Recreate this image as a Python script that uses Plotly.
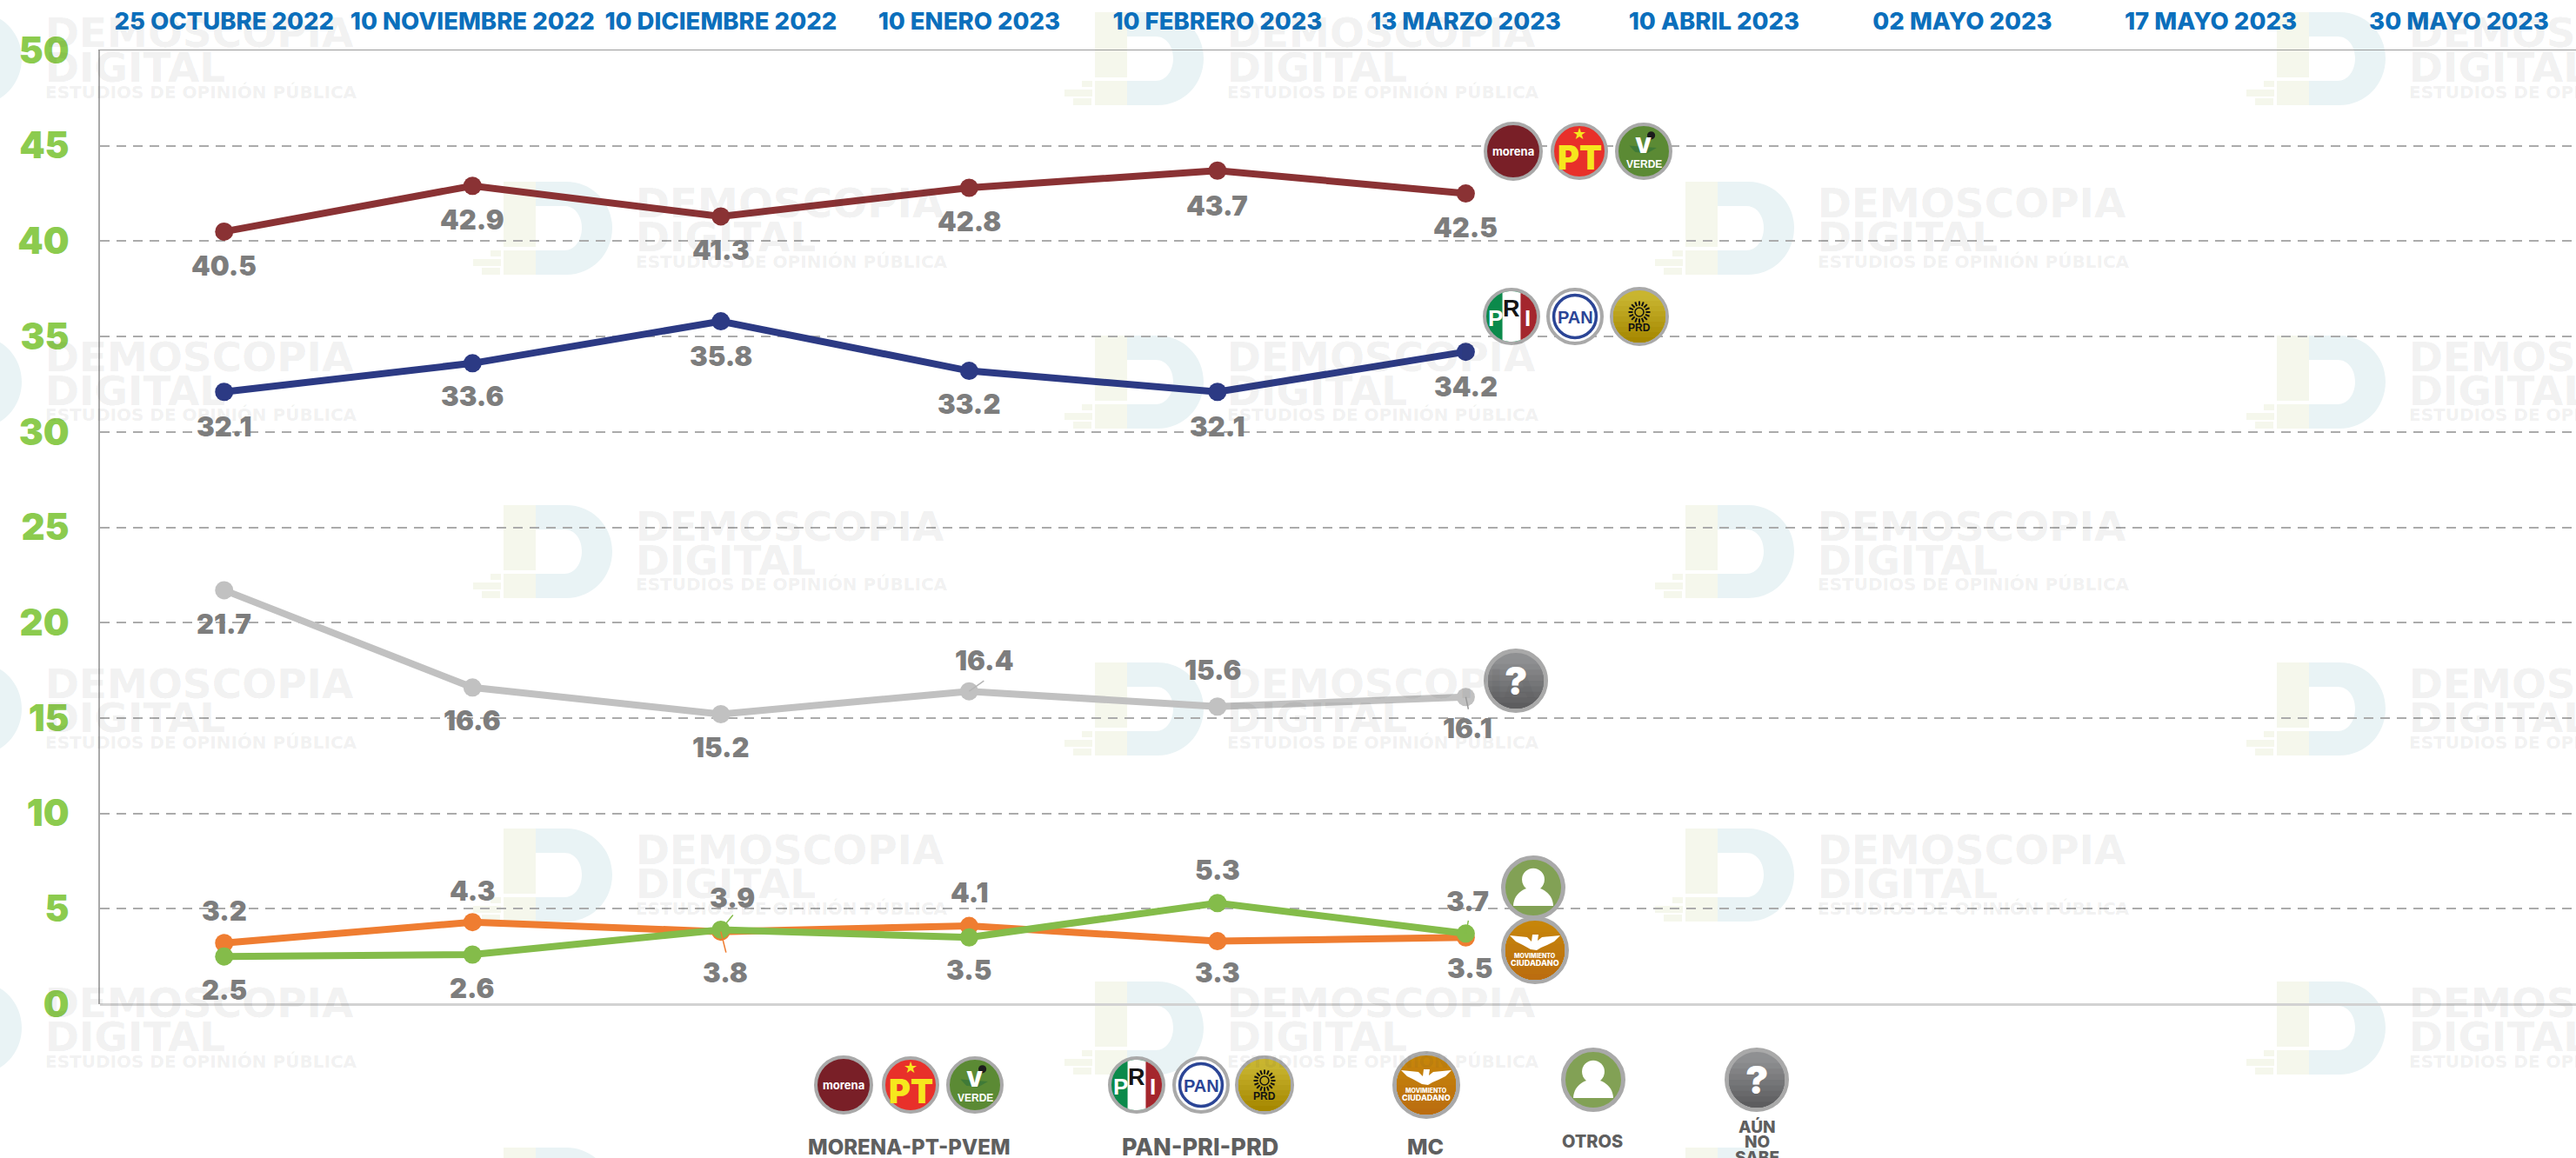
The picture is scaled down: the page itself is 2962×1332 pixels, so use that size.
import math
import plotly.graph_objects as go

# ---------- DATA ----------
fechas = ["25 OCTUBRE 2022", "10 NOVIEMBRE 2022", "10 DICIEMBRE 2022", "10 ENERO 2023", "10 FEBRERO 2023",
          "13 MARZO 2023", "10 ABRIL 2023", "02 MAYO 2023", "17 MAYO 2023", "30 MAYO 2023"]
y_ticks = [0, 5, 10, 15, 20, 25, 30, 35, 40, 45, 50]
morena_pt_pvem = [40.5, 42.9, 41.3, 42.8, 43.7, 42.5]
pan_pri_prd = [32.1, 33.6, 35.8, 33.2, 32.1, 34.2]
aun_no_sabe = [21.7, 16.6, 15.2, 16.4, 15.6, 16.1]
mc = [3.2, 4.3, 3.8, 4.1, 3.3, 3.5]
otros = [2.5, 2.6, 3.9, 3.5, 5.3, 3.7]

# ---------- LAYOUT CONSTANTS (px) ----------
W, H = 2962, 1332
L, R, T, B = 115, 2962, 58, 1155
LABEL_FONT = "Inter"
NARROW = "Liberation Sans"
WM = "rgba(60,60,60,0.085)"
GRID = "#ababab"


def px(x):
    return (x - L) / (R - L)


def py(y):
    return (B - y) / (B - T)


shapes, annos = [], []


def text(x, y, s, size, color, weight=800, family=LABEL_FONT, xanchor="center"):
    annos.append(dict(xref="paper", yref="paper", x=px(x), y=py(y), text=s, showarrow=False,
                      xanchor=xanchor, yanchor="middle",
                      font=dict(size=size, color=color, family=family, weight=weight)))


def path_pts(pts, fill, layer="above", close=True):
    d = "M " + " L ".join(f"{px(a):.6f},{py(b):.6f}" for a, b in pts) + (" Z" if close else "")
    shapes.append(dict(type="path", xref="paper", yref="paper", path=d, fillcolor=fill,
                       line=dict(width=0), layer=layer))


def rect(x0, y0, x1, y1, fill, layer="below"):
    shapes.append(dict(type="rect", xref="paper", yref="paper", x0=px(x0), x1=px(x1), y0=py(y0), y1=py(y1),
                       fillcolor=fill, line=dict(width=0), layer=layer))


def circle(cx, cy, r, fill, ring=None, w=0):
    shapes.append(dict(type="circle", xref="paper", yref="paper", x0=px(cx - r), x1=px(cx + r),
                       y0=py(cy + r), y1=py(cy - r), fillcolor=fill,
                       line=dict(width=w, color=ring or fill), layer="above"))


def seg(x0, y0, x1, y1, col, w):
    shapes.append(dict(type="line", xref="paper", yref="paper", x0=px(x0), x1=px(x1), y0=py(y0), y1=py(y1),
                       line=dict(color=col, width=w), layer="above"))


def chord_below(cx, cy, r, y_from, fill):
    """part of a circle below a horizontal chord"""
    y_from = max(y_from, cy - r + 0.01)
    a0 = math.asin(min(1, (y_from - cy) / r))
    n = 40
    pts = []
    for i in range(n + 1):
        a = a0 + (math.pi - 2 * a0) * i / n
        pts.append((cx + r * math.cos(a), cy + r * math.sin(a)))
    path_pts(pts, fill)


def chord_right(cx, cy, r, x_from, fill):
    a0 = math.acos(max(-1, min(1, (x_from - cx) / r)))
    n = 40
    pts = []
    for i in range(n + 1):
        a = -a0 + 2 * a0 * i / n
        pts.append((cx + r * math.cos(a), cy + r * math.sin(a)))
    path_pts(pts, fill)


def hexrgb(c):
    return [int(c[i:i + 2], 16) for i in (1, 3, 5)]


def gradient(cx, cy, r, top, bottom, n=10):
    a, b = hexrgb(top), hexrgb(bottom)
    for k in range(1, n):
        t = k / (n - 1)
        col = "#%02x%02x%02x" % tuple(round(a[j] + (b[j] - a[j]) * t) for j in range(3))
        chord_below(cx, cy, r, cy - r + 2 * r * k / n, col)


RING = "#a9a9a9"


def disc(cx, cy, r, fill, w=4):
    circle(cx, cy, r - w / 2, fill, RING, w)


def badge_morena(cx, cy, r=34):
    disc(cx, cy, r, "#791f27")
    text(cx, cy, "morena", 13, "white", 700)


def badge_pt(cx, cy, r=33):
    disc(cx, cy, r, "#e8302a")
    text(cx, cy + r * 0.2, "PT", 38, "#f6e71d", 900)
    text(cx, cy - r * 0.63, "★", 18, "#f6e71d", 400, "DejaVu Sans")


def badge_verde(cx, cy, r=33):
    disc(cx, cy, r, "#5b8a34")
    path_pts([(cx - r * 0.5, cy - r * 0.2), (cx + r * 0.45, cy - r * 0.12), (cx + r * 0.1, cy + r * 0.08),
              (cx - r * 0.3, cy + r * 0.02)], "#3f7a37")
    text(cx - r * 0.03, cy - r * 0.2, "V", 24, "white", 900)
    circle(cx + r * 0.26, cy - r * 0.55, r * 0.14, "#1c1c1c")
    text(cx, cy + r * 0.44, "VERDE", 12, "white", 700, NARROW)


def badge_pri(cx, cy, r=33):
    disc(cx, cy, r, "#0b8a4b")
    inner = r - 4
    chord_right(cx, cy, inner, cx - inner * 0.36, "#ffffff")
    chord_right(cx, cy, inner, cx + inner * 0.36, "#a4262d")
    text(cx - r * 0.55, cy + r * 0.07, "P", 26, "white", 700, NARROW)
    text(cx, cy - r * 0.27, "R", 27, "#151515", 700, NARROW)
    text(cx + r * 0.56, cy + r * 0.07, "I", 26, "white", 700, NARROW)


def badge_pan(cx, cy, r=33):
    disc(cx, cy, r, "#ffffff")
    circle(cx, cy, r * 0.74, "#ffffff", "#2b4596", 3.5)
    text(cx, cy + 1, "PAN", 20, "#2b4596", 700, NARROW)


def badge_prd(cx, cy, r=34):
    disc(cx, cy, r, "#c9b52f")
    gradient(cx, cy, r - 4, "#cbb935", "#a68800")
    sx, sy = cx, cy - 5
    for k in range(16):
        a = k * math.pi / 8
        seg(sx + 7.5 * math.cos(a), sy + 7.5 * math.sin(a), sx + 12.5 * math.cos(a), sy + 12.5 * math.sin(a),
            "#111111", 2)
    circle(sx, sy, 5, "rgba(0,0,0,0)", "#111111", 1.5)
    text(cx, cy + 13, "PRD", 12, "#111111", 700, NARROW)


def badge_q(cx, cy, r=37):
    disc(cx, cy, r, "#8f9092", 5)
    gradient(cx, cy, r - 5, "#949597", "#5d5d5f")
    text(cx, cy, "?", 44, "white", 900)


def badge_otros(cx, cy, r=37):
    disc(cx, cy, r, "#82a155", 5)
    circle(cx, cy - r * 0.25, r * 0.35, "white")
    pts = [(cx + r * 0.62 * math.cos(a * math.pi / 30), cy + r * 0.57 - r * 0.58 * math.sin(a * math.pi / 30))
           for a in range(31)]
    path_pts(pts, "white")


def badge_mc(cx, cy, r=39):
    disc(cx, cy, r, "#c6850a", 5)
    gradient(cx, cy, r - 5, "#c6860a", "#bb6d10")
    wing = [(-29, -17), (-9, -15), (-4, -10), (-3, -18), (4, -18), (3, -11), (8, -15), (29, -17), (22, -10), (14, -6),
            (7, -3), (2, 0), (-5, -1), (-14, -6), (-22, -10)]
    path_pts([(cx + a, cy + b) for a, b in wing], "white")
    text(cx, cy + 6.5, "MOVIMIENTO", 7, "white", 800)
    text(cx, cy + 14, "CIUDADANO", 9, "white", 800)


# ---------- WATERMARKS ----------
rows = [(23, (50, 1409, 2768)), (218, (729, 2088)), (395, (50, 1409, 2768)), (590, (729, 2088)),
        (771, (50, 1409, 2768)), (962, (729, 2088)), (1138, (50, 1409, 2768)), (1329, (729, 2088))]
YEL, BLU = "#f5f7ec", "#e9f3f5"
for top, xs in rows:
    for x in xs:
        x0 = x + 2
        rect(x0 - 152, top - 9, x0 - 115, top + 66, YEL)
        rect(x0 - 152, top + 70, x0 - 115, top + 98, YEL)
        rect(x0 - 167, top + 70, x0 - 155, top + 77, YEL)
        rect(x0 - 187, top + 80, x0 - 155, top + 88, YEL)
        rect(x0 - 177, top + 90, x0 - 156, top + 98, YEL)

        def P(a, b):
            return f"{px(x0 + a):.6f},{py(top + b):.6f}"

        d = (f"M {P(-115, -9)} L {P(-80, -9)} C {P(-50, -9)} {P(-27, 15)} {P(-27, 44)} "
             f"C {P(-27, 74)} {P(-50, 98)} {P(-80, 98)} L {P(-115, 98)} L {P(-115, 70)} L {P(-82, 70)} "
             f"C {P(-70, 70)} {P(-62, 58)} {P(-62, 44)} C {P(-62, 30)} {P(-70, 19)} {P(-82, 19)} "
             f"L {P(-115, 19)} Z")
        shapes.append(dict(type="path", xref="paper", yref="paper", path=d, fillcolor=BLU,
                           line=dict(width=0), layer="below"))
        if top < 1300:
            text(x, top + 15, "DEMOSCOPIA", 47, WM, 700, "DejaVu Sans", "left")
            text(x, top + 54, "DIGITAL", 47, WM, 700, "DejaVu Sans", "left")
            text(x, top + 82.5, "ESTUDIOS DE OPINIÓN PÚBLICA", 20, WM, 700, "DejaVu Sans", "left")

# ---------- BADGES ----------
badge_morena(1740, 174); badge_pt(1816, 174); badge_verde(1890, 174)
badge_pri(1738, 364); badge_pan(1811, 364); badge_prd(1885, 364)
badge_q(1743, 783); badge_otros(1763, 1021); badge_mc(1765, 1093)

badge_morena(970, 1248); badge_pt(1047, 1248); badge_verde(1121, 1248)
badge_pri(1307, 1248); badge_pan(1381, 1248); badge_prd(1454, 1248)
badge_mc(1640, 1248); badge_otros(1832, 1242); badge_q(2020, 1242)

LEG = "#5f5f5f"
text(1045, 1319, "MORENA-PT-PVEM", 24, LEG)
text(1380, 1319, "PAN-PRI-PRD", 27, LEG)
text(1639, 1319, "MC", 25, LEG)
text(1831, 1313, "OTROS", 20, LEG)
text(2020, 1296, "AÚN", 19, LEG)
text(2020, 1313, "NO", 19, LEG)
text(2020, 1331, "SABE", 19, LEG)

# ---------- SERIES ----------
series = [
    ("MORENA-PT-PVEM", morena_pt_pvem, "#8a3234", [-39, -39, -39, -39, -40, -39], [0, 0, 0, 0, 0, 0]),
    ("PAN-PRI-PRD", pan_pri_prd, "#2c3a84", [-40, -38, -40, -38, -40, -40], [0, 0, 0, 0, 0, 0]),
    ("AÚN NO SABE", aun_no_sabe, "#c1c1c1", [-39, -38, -38, 36, 42, -36], [0, 0, 0, 17, -5, 2]),
    ("MC", mc, "#ef7d31", [37, 36, -47, 39, -36, -35], [0, 0, 5, 0, 0, 5]),
    ("OTROS", otros, "#84bc4a", [-38, -39, 37, -37, 38, 37], [0, 0, 13, 0, 0, 2]),
]

fig = go.Figure()
for name, vals, col, dys, dxs in series:
    cats = fechas[:len(vals)]
    fig.add_trace(go.Scatter(x=cats, y=vals, name=name, mode="lines+markers",
                             line=dict(color=col, width=8), marker=dict(color=col, size=21),
                             showlegend=False, cliponaxis=False))
    for c, v, dy, dx in zip(cats, vals, dys, dxs):
        annos.append(dict(xref="x", yref="y", x=c, y=v, text=f"{v:.1f}", showarrow=False,
                          xanchor="center", yanchor="middle", xshift=dx, yshift=dy,
                          font=dict(size=31, color="#7d7d7d", family=LABEL_FONT, weight=900)))

# thin leader lines left on some points of the original
leaders = [(fechas[2], mc[2], 6, -24, "#ef7d31"), (fechas[2], otros[2], 14, 17, "#84bc4a"),
           (fechas[3], aun_no_sabe[3], 17, 12, "#b5b5b5"), (fechas[5], aun_no_sabe[5], 3, -14, "#9a9a9a"),
           (fechas[5], otros[5], 3, 15, "#84bc4a")]
for c, v, dx, dy, col in leaders:
    shapes.append(dict(type="line", xref="x", yref="y", xsizemode="pixel", ysizemode="pixel",
                       xanchor=c, yanchor=v, x0=0, x1=dx, y0=0, y1=dy,
                       line=dict(color=col, width=1.5), layer="above"))

fig.update_layout(
    width=W, height=H, autosize=False,
    margin=dict(l=L, r=W - R, t=T, b=H - B, pad=0),
    paper_bgcolor="white", plot_bgcolor="rgba(0,0,0,0)",
    shapes=shapes, annotations=annos, showlegend=False, hovermode=False,
    xaxis=dict(type="category", categoryorder="array", categoryarray=fechas, tickmode="array", tickvals=fechas,
               ticktext=fechas, range=[-0.5, 9.471], side="top", tickangle=0, showgrid=False,
               showline=True, linecolor="#9a9a9a", linewidth=1, ticks="", ticklabelstandoff=12,
               tickfont=dict(size=27.5, color="#0b6fbc", family=LABEL_FONT, weight=800), zeroline=False),
    yaxis=dict(range=[0, 50], tickmode="array", tickvals=y_ticks, showgrid=True, gridcolor=GRID, gridwidth=2,
               griddash="11px,8px", zeroline=True, zerolinecolor="#d2d2d2", zerolinewidth=3,
               showline=True, linecolor="#a9a9a9", linewidth=2, ticks="", ticklabelstandoff=25,
               tickfont=dict(size=42, color="#8ccb4e", family=LABEL_FONT, weight=900)),
)

fig.write_html("out.html", config=dict(displayModeBar=False),
               post_script="document.body.style.margin='0';document.body.style.overflow='hidden';")
